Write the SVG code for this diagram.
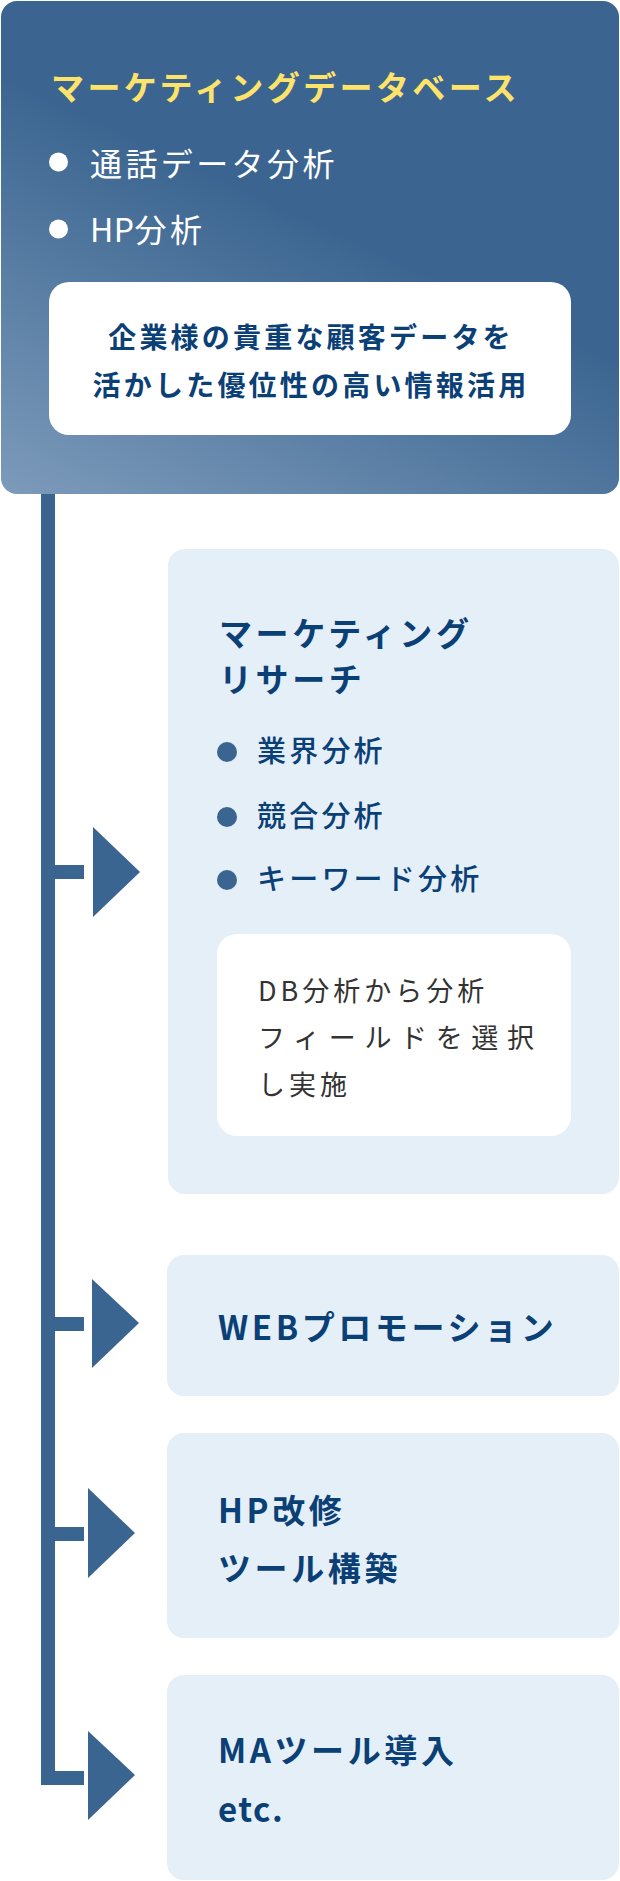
<svg xmlns="http://www.w3.org/2000/svg" width="620" height="1881" viewBox="0 0 620 1881">
  <defs>
    <linearGradient id="topGrad" gradientUnits="userSpaceOnUse" x1="0" y1="494" x2="160" y2="150">
      <stop offset="0" stop-color="#7d9bbb"/>
      <stop offset="1" stop-color="#3b6590"/>
    </linearGradient>
  </defs>
  <style>
    .jp { font-family: "Noto Sans CJK JP", "Noto Sans", sans-serif; }
    .title { font-size: 33px; font-weight: 700; letter-spacing: 3.6px; fill: #0b4076; }
    .ytitle { font-size: 33px; font-weight: 700; letter-spacing: 3.4px; fill: #fde36a; }
    .wbul { font-size: 32px; font-weight: 400; letter-spacing: 3.4px; fill: #ffffff; }
    .bbul { font-size: 29px; font-weight: 500; letter-spacing: 3.2px; fill: #0b4076; }
    .note { font-size: 28px; font-weight: 700; letter-spacing: 3.2px; fill: #0b4076; }
    .db { font-size: 27px; font-weight: 400; letter-spacing: 4px; fill: #333333; }
    .tight { letter-spacing: 0.5px; }
    .card { fill: #e5eff8; }
    .inner { fill: #ffffff; }
    .conn { fill: #3a6590; }
  </style>

  <g id="connectors">
    <rect class="conn" x="41" y="494" width="14" height="1291"/>
    <rect class="conn" x="55" y="865" width="29" height="14"/>
    <polygon class="conn" points="93,827 140,872 93,917"/>
    <rect class="conn" x="55" y="1317" width="29" height="14"/>
    <polygon class="conn" points="92,1279 139,1323 92,1368"/>
    <rect class="conn" x="55" y="1527" width="29" height="14"/>
    <polygon class="conn" points="88,1488 135,1533 88,1578"/>
    <rect class="conn" x="55" y="1771" width="29" height="14"/>
    <polygon class="conn" points="88,1731 135,1775 88,1820"/>
  </g>

  <g id="marketing-database">
    <rect x="1" y="1" width="618" height="493" rx="16" fill="url(#topGrad)"/>
    <text class="jp ytitle" x="51" y="100">マーケティングデータベース</text>
    <circle cx="58.5" cy="162" r="9.5" fill="#ffffff"/>
    <text class="jp wbul" x="90" y="176">通話データ分析</text>
    <circle cx="58.5" cy="229" r="9.5" fill="#ffffff"/>
    <text class="jp wbul" x="90" y="242"><tspan class="tight">HP</tspan>分析</text>
    <rect class="inner" x="49" y="282" width="522" height="153" rx="20"/>
    <text class="jp note" x="311" y="348" text-anchor="middle">企業様の貴重な顧客データを</text>
    <text class="jp note" x="311" y="396" text-anchor="middle">活かした優位性の高い情報活用</text>
  </g>

  <g id="marketing-research">
    <rect class="card" x="168" y="549" width="451" height="645" rx="17"/>
    <text class="jp title" x="219" y="646">マーケティング</text>
    <text class="jp title" x="219" y="692">リサーチ</text>
    <circle class="conn" cx="227" cy="752" r="10"/>
    <text class="jp bbul" x="257" y="762">業界分析</text>
    <circle class="conn" cx="227" cy="817" r="10"/>
    <text class="jp bbul" x="257" y="827">競合分析</text>
    <circle class="conn" cx="227" cy="880" r="10"/>
    <text class="jp bbul" x="257" y="890">キーワード分析</text>
    <rect class="inner" x="217" y="934" width="354" height="202" rx="20"/>
    <text class="jp db" x="258" y="1001">DB分析から分析</text>
    <text class="jp db" x="258" y="1048" textLength="280" lengthAdjust="spacing">フィールドを選択</text>
    <text class="jp db" x="258" y="1095">し実施</text>
  </g>

  <g id="web-promotion">
    <rect class="card" x="167" y="1255" width="452" height="141" rx="17"/>
    <text class="jp title" x="218" y="1340">WEBプロモーション</text>
  </g>

  <g id="hp-tools">
    <rect class="card" x="167" y="1433" width="452" height="205" rx="17"/>
    <text class="jp title" x="218" y="1523">HP改修</text>
    <text class="jp title" x="218" y="1581">ツール構築</text>
  </g>

  <g id="ma-tools">
    <rect class="card" x="167" y="1675" width="452" height="205" rx="17"/>
    <text class="jp title" x="218" y="1763">MAツール導入</text>
    <text class="jp title" x="218" y="1822" style="letter-spacing:1.5px">etc.</text>
  </g>
</svg>
